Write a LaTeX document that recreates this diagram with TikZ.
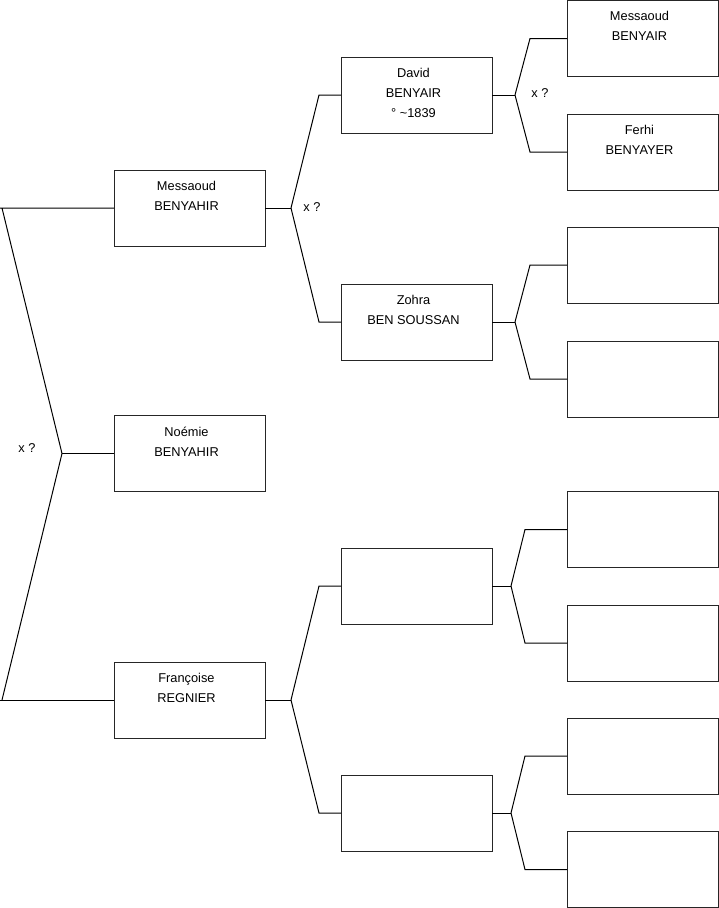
\documentclass[tikz,border=0pt]{standalone}
\usepackage{fontspec}
\setmainfont{Liberation Sans}
\begin{document}
\begin{tikzpicture}[x=1pt,y=-1pt,
  box/.style={draw=black!85, line width=1pt, minimum width=151pt, minimum height=76pt, anchor=north west, inner sep=0pt, outer sep=0pt},
  txt/.style={anchor=north, align=center, inner sep=0pt, xshift=-3pt, font=\fontsize{12.8}{20}\selectfont},
  conn/.style={draw=black, line width=1pt},
  xq/.style={inner sep=0pt, font=\fontsize{12.8}{15}\selectfont}]
\useasboundingbox (0,0) rectangle (719,908);
% generation 1
\node[box] (m1) at (114,170) {};
\node[box] (n1) at (114,415.5) {};
\node[box] (f1) at (114,662) {};
% generation 2
\node[box] (d2) at (341,57) {};
\node[box] (z2) at (341,284) {};
\node[box] (e3) at (341,548) {};
\node[box] (e4) at (341,775) {};
% generation 3
\node[box] (r1) at (567,0.5) {};
\node[box] (r2) at (567,114) {};
\node[box] (r3) at (567,227) {};
\node[box] (r4) at (567,341) {};
\node[box] (r5) at (567,491.5) {};
\node[box] (r6) at (567,605) {};
\node[box] (r7) at (567,718) {};
\node[box] (r8) at (567,831.5) {};
% texts
\node[txt] (tm1) at ([yshift=-11pt]m1.north) {Messaoud\\BENYAHIR};
\node[txt] (tn1) at ([yshift=-11pt]n1.north) {Noémie\\BENYAHIR};
\node[txt] (tf1) at ([yshift=-11pt]f1.north) {Françoise\\REGNIER};
\node[txt] (td2) at ([yshift=-11pt]d2.north) {David\\BENYAIR\\° \textasciitilde1839};
\node[txt] (tz2) at ([yshift=-11pt]z2.north) {Zohra\\BEN SOUSSAN};
\node[txt] (tr1) at ([yshift=-11pt]r1.north) {Messaoud\\BENYAIR};
\node[txt] (tr2) at ([yshift=-11pt]r2.north) {Ferhi\\BENYAYER};
% fork coordinates
\coordinate (a1) at (2,208);
\coordinate (a0) at (62,453.5);
\coordinate (a2) at (2,700);
\coordinate (b0) at (291,208);
\coordinate (b1) at (319,95);
\coordinate (b2) at (319,322);
\coordinate (c0) at (291,700);
\coordinate (c1) at (319,586);
\coordinate (c2) at (319,813);
\coordinate (d0) at (515,95);
\coordinate (d1) at (530,38.5);
\coordinate (dd) at (530,152);
\coordinate (z0) at (515,322);
\coordinate (z1) at (530,265);
\coordinate (zz) at (530,379);
\coordinate (e0) at (511,586);
\coordinate (e1) at (525,529.5);
\coordinate (ee) at (525,643);
\coordinate (g0) at (511,813);
\coordinate (g1) at (525,756);
\coordinate (gg) at (525,869.5);
% connectors
\draw[conn] (m1.west) -- (0,208) (a1) -- (a0) -- (a2);
\draw[conn] (f1.west) -- (0,700);
\draw[conn] (a0) -- (n1.west);
\draw[conn] (m1.east) -- (b0);
\draw[conn] (b0) -- (b1) -- (d2.west);
\draw[conn] (b0) -- (b2) -- (z2.west);
\draw[conn] (f1.east) -- (c0);
\draw[conn] (c0) -- (c1) -- (e3.west);
\draw[conn] (c0) -- (c2) -- (e4.west);
\draw[conn] (d2.east) -- (d0);
\draw[conn] (d0) -- (d1) -- (r1.west);
\draw[conn] (d0) -- (dd) -- (r2.west);
\draw[conn] (z2.east) -- (z0);
\draw[conn] (z0) -- (z1) -- (r3.west);
\draw[conn] (z0) -- (zz) -- (r4.west);
\draw[conn] (e3.east) -- (e0);
\draw[conn] (e0) -- (e1) -- (r5.west);
\draw[conn] (e0) -- (ee) -- (r6.west);
\draw[conn] (e4.east) -- (g0);
\draw[conn] (g0) -- (g1) -- (r7.west);
\draw[conn] (g0) -- (gg) -- (r8.west);
% x ? labels
\node[xq] (x1) at (27,448) {x ?};
\node[xq] (x2) at (312,207) {x ?};
\node[xq] (x3) at (540,93) {x ?};
\end{tikzpicture}
\end{document}
